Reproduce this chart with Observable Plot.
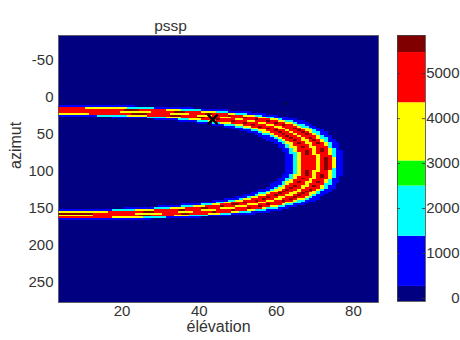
<!DOCTYPE html>
<html><head><meta charset="utf-8">
<script src="https://cdn.jsdelivr.net/npm/d3@7"></script>
<script src="https://cdn.jsdelivr.net/npm/@observablehq/plot@0.6"></script>
<style>
body{margin:0;background:#fff;font-family:Arial,"Liberation Sans",sans-serif}
#wrap{position:relative;width:460px;height:340px;overflow:hidden}
#main{position:absolute;left:0;top:0}
#cb{position:absolute;left:385px;top:0}
</style></head><body><div id="wrap"><div id="main"></div><div id="cb"></div></div>
<script>
const title = "pssp";
const xLabel = "élévation";
const yLabel = "azimut";
const xTicks = [20, 40, 60, 80];
const yTicks = [-50, 0, 50, 100, 150, 200, 250];
const xDomain = [3.5, 86.5];
const yDomain = [-84, 277];
const colorTicks = [0, 1000, 2000, 3000, 4000, 5000];
const colorRange = [-67, 5848];
const levelThresholds = [268, 1384, 2500, 3058, 4353, 5469];
const levelColors = ["#000080", "#0000ff", "#00ffff", "#00ff00", "#ffff00", "#ff0000", "#800000"];
// grid of the image (cell centres)
const elevGrid = {first: 4, last: 86, step: 1};
const azGrid = {first: -82.5, last: 275, step: 2.5};
// ring: axis direction and radial profile (angle from axis, degrees)
const ringAxisAzimut = 89;
const ringAxisElevation = 0;
const ringFrom  = [63, 64.8, 65.9, 67, 68.4, 69.0, 70.3, 71.5, 72.7, 73.2, 74.3, 75.1, 76];
const ringTo    = [64.8, 65.9, 67, 68.4, 69.0, 70.3, 71.5, 72.7, 73.2, 74.3, 75.1, 76, 77.6];
const ringValue = [800, 2000, 3600, 5000, 5700, 5000, 3600, 5000, 5700, 5000, 3600, 2000, 800];
// markers
const markerElev = [43.5];
const markerAz = [29.5];
const dotElev = [62.4];
const dotAz = [8];

const rad = Math.PI / 180;
const cells = [];
for (let i = 0; elevGrid.first + i * elevGrid.step <= elevGrid.last; i++) {
  const e = elevGrid.first + i * elevGrid.step;
  for (let k = 0; azGrid.first + k * azGrid.step <= azGrid.last; k++) {
    const a = azGrid.first + k * azGrid.step;
    const c = Math.sin(e * rad) * Math.sin(ringAxisElevation * rad) +
              Math.cos(e * rad) * Math.cos(ringAxisElevation * rad) * Math.cos((a - ringAxisAzimut) * rad);
    const ang = Math.acos(Math.max(-1, Math.min(1, c))) / rad;
    const j = ringFrom.findIndex((f, n) => ang >= f && ang < ringTo[n]);
    if (j >= 0) cells.push({e, a, v: ringValue[j]});
  }
}

const colorScale = {type: "threshold", domain: levelThresholds, range: levelColors};
const fmt = d => String(d);

const main = Plot.plot({
  width: 460, height: 340,
  marginLeft: 58, marginRight: 82, marginTop: 35, marginBottom: 38,
  style: {fontFamily: "Arial, 'Liberation Sans', sans-serif", fontSize: "15px", color: "#333", background: "transparent"},
  x: {domain: xDomain, ticks: xTicks, tickFormat: fmt, tickSize: 0, tickPadding: 3, label: null},
  y: {domain: yDomain, reverse: true, ticks: yTicks, tickFormat: fmt, tickSize: 0, tickPadding: 5, label: null},
  color: colorScale,
  marks: [
    Plot.frame({fill: levelColors[0]}),
    Plot.rect(cells, {x1: d => d.e - elevGrid.step / 2, x2: d => d.e + elevGrid.step / 2,
      y1: d => d.a - azGrid.step / 2, y2: d => d.a + azGrid.step / 2, fill: "v", inset: 0, shapeRendering: "crispEdges"}),
    Plot.dot(markerElev.map((e, i) => ({e, a: markerAz[i]})), {x: "e", y: "a", symbol: "times", r: 4.5, stroke: "#000", strokeWidth: 2.5}),
    Plot.dot(dotElev.map((e, i) => ({e, a: dotAz[i]})), {x: "e", y: "a", r: 1.2, fill: "#111"}),
    Plot.frame({stroke: "#555", strokeWidth: 0.8}),
    Plot.text([xLabel], {frameAnchor: "bottom", dy: 29, text: d => d, fontSize: 16, fill: "#333"}),
    Plot.text([yLabel], {frameAnchor: "left", dx: -43, rotate: -90, text: d => d, fontSize: 16, fill: "#333"}),
    Plot.text([title], {frameAnchor: "top", dx: -48, dy: -16, text: d => d, fontSize: 15.5, fill: "#333"})
  ]
});
document.getElementById("main").appendChild(main);

const bands = levelColors.map((c, i) => ({
  lo: i === 0 ? colorRange[0] : levelThresholds[i - 1],
  hi: i === levelColors.length - 1 ? colorRange[1] : levelThresholds[i]
}));

const cb = Plot.plot({
  width: 75, height: 340,
  marginLeft: 12, marginRight: 35, marginTop: 35, marginBottom: 39,
  style: {fontFamily: "Arial, 'Liberation Sans', sans-serif", fontSize: "15px", color: "#333", background: "transparent"},
  y: {domain: colorRange, axis: null},
  color: colorScale,
  marks: [
    Plot.rect(bands, {y1: "lo", y2: "hi", fill: d => (d.lo + d.hi) / 2, inset: 0}),
    Plot.ruleY(colorTicks, {y: d => d, insetRight: 25, stroke: "#333", strokeWidth: 0.8}),
    Plot.ruleY(colorTicks, {y: d => d, insetLeft: 25, stroke: "#333", strokeWidth: 0.8}),
    Plot.frame({stroke: "#444", strokeWidth: 0.8}),
    Plot.text(colorTicks, {y: d => d, frameAnchor: "right", dx: 34, textAnchor: "end", text: d => String(d), fill: "#333"})
  ]
});
document.getElementById("cb").appendChild(cb);
</script></body></html>
